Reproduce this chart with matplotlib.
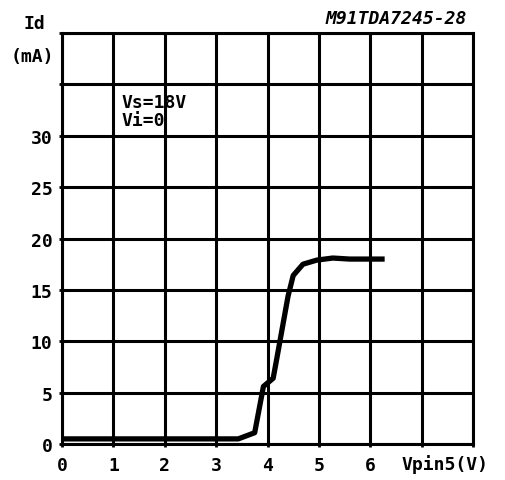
import matplotlib
matplotlib.use('Agg')
import matplotlib.pyplot as plt

# curve: Vpin5 (V) vs Id (mA)
vpin5 = [0.0, 3.43, 3.75, 3.92, 4.11, 4.18, 4.40, 4.50, 4.69, 4.96, 5.27, 5.60, 6.28]
id_ma = [0.5, 0.5, 1.1, 5.6, 6.4, 8.3, 14.4, 16.4, 17.5, 17.9, 18.1, 18.0, 18.0]

x_ticks = [0, 1, 2, 3, 4, 5, 6, 7, 8]
x_labels = ['0', '1', '2', '3', '4', '5', '6', '', '']
y_ticks = [0, 5, 10, 15, 20, 25, 30, 35, 40]
y_labels = ['0', '5', '10', '15', '20', '25', '30', '', '']

font = {'family': 'DejaVu Sans Mono', 'weight': 'bold', 'size': 13}

fig = plt.figure(figsize=(5.05, 4.81), dpi=100)
ax = fig.add_axes([0.1228, 0.0748, 0.8139, 0.8545])

ax.plot(vpin5, id_ma, color='black', lw=3.8, solid_capstyle='butt', zorder=3)

ax.set_xlim(0, 8)
ax.set_ylim(0, 40)
ax.set_xticks(x_ticks)
ax.set_xticklabels(x_labels, fontdict=font)
ax.set_yticks(y_ticks)
ax.set_yticklabels(y_labels, fontdict=font)
ax.tick_params(length=2, width=2, pad=5, colors='black')
ax.tick_params(axis='x', pad=6.5)
ax.grid(True, color='black', lw=2.2)
for s in ax.spines.values():
    s.set_linewidth(2.2)

fig.text(0.069, 0.950, 'Id', ha='center', va='center', **font)
fig.text(0.065, 0.881, '(mA)', ha='center', va='center', **font)
fig.text(0.881, 0.035, 'Vpin5(V)', ha='center', va='center', **font)
fig.text(0.925, 0.960, 'M91TDA7245-28', ha='right', va='center',
         family='DejaVu Sans Mono', weight='bold', style='italic', size=13)

ax.text(1.15, 32.4, 'Vs=18V\nVi=0', ha='left', va='center',
        linespacing=1.0, **font)

fig.savefig('out.png', dpi=100)
